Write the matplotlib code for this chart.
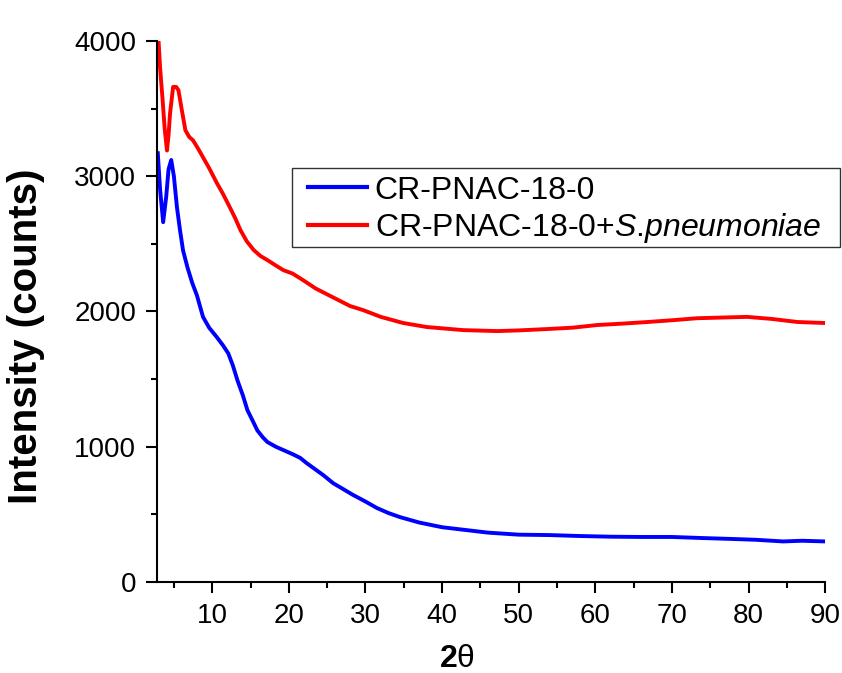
import matplotlib
matplotlib.use("Agg")
import matplotlib.pyplot as plt
from matplotlib.patches import Rectangle
from matplotlib.ticker import MultipleLocator

plt.rcParams["font.family"] = ["Liberation Sans", "DejaVu Sans"]
plt.rcParams["mathtext.fontset"] = "custom"
plt.rcParams["mathtext.it"] = "Liberation Sans:italic"
plt.rcParams["mathtext.rm"] = "Liberation Sans"
plt.rcParams["mathtext.bf"] = "Liberation Sans:bold"

# values (2theta, counts)
blue_x = [2.9, 3.2, 3.6, 4.0, 4.3, 4.65, 5.0, 5.4, 5.8, 6.2, 6.8, 7.4, 8.0, 8.8,
          9.6, 10.6, 11.4, 12.1, 12.7, 13.3, 14.0, 14.6, 15.3, 15.9, 16.6,
          17.2, 18.3, 19.3, 20.5, 21.5, 22.3, 23.2, 24.5, 25.8, 27.0, 28.4,
          30.0, 31.5, 33.0, 34.5, 37.0, 40.0, 43.0, 46.0, 50.0, 54.0, 58.0,
          62.0, 66.0, 70.0, 74.0, 78.0, 81.0, 84.5, 87.0, 90.0]
blue_y = [3170, 2900, 2660, 2850, 3050, 3120, 3000, 2770, 2600, 2450, 2320, 2210,
          2120, 1960, 1880, 1810, 1750, 1690, 1600, 1490, 1380, 1270, 1190,
          1120, 1070, 1035, 1000, 975, 945, 917, 880, 843, 790, 730, 690, 643,
          595, 547, 510, 480, 440, 405, 385, 365, 350, 347, 340, 335, 333, 333,
          325, 318, 312, 300, 305, 300]

red_x = [3.0, 3.2, 3.5, 3.8, 4.1, 4.3, 4.5, 4.9, 5.3, 5.6, 6.0, 6.5, 7.0, 7.5,
         8.2, 8.8, 9.6, 10.6, 11.4, 12.3, 13.0, 13.7, 14.5, 15.4, 16.3, 17.2,
         18.3, 19.3, 20.5, 21.9, 23.5, 25.4, 28.0, 29.7, 32.0, 34.9, 38.0,
         42.8, 47.2, 50.0, 53.7, 57.0, 60.3, 63.5, 66.8, 70.0, 73.3, 76.5,
         79.8, 83.0, 86.4, 89.8]
red_y = [4000, 3800, 3585, 3350, 3190, 3300, 3465, 3660, 3660, 3635, 3500, 3340,
         3290, 3265, 3200, 3140, 3060, 2950, 2870, 2770, 2690, 2600, 2520,
         2455, 2410, 2380, 2340, 2305, 2280, 2230, 2170, 2115, 2040, 2010,
         1960, 1915, 1885, 1862, 1855, 1860, 1870, 1880, 1900, 1910, 1922,
         1935, 1950, 1955, 1960, 1945, 1922, 1915]

fig = plt.figure(figsize=(8.42, 6.73), dpi=100)
ax = fig.add_axes([0.1865, 0.1352, 0.7935, 0.804])

ax.plot(blue_x, blue_y, color="#0000ff", lw=2.8, label="CR-PNAC-18-0")
ax.plot(red_x, red_y, color="#ff0000", lw=2.8,
        label="CR-PNAC-18-0+$\\it{S}$.$\\it{pneumoniae}$")

ax.set_xlim(2.8, 90)
ax.set_ylim(0, 4000)
ax.xaxis.set_major_locator(MultipleLocator(10))
ax.xaxis.set_minor_locator(MultipleLocator(5))
ax.yaxis.set_major_locator(MultipleLocator(1000))
ax.yaxis.set_minor_locator(MultipleLocator(500))
ax.set_xticks(range(10, 91, 10))

for s in ("top", "right"):
    ax.spines[s].set_visible(False)
for s in ("left", "bottom"):
    ax.spines[s].set_linewidth(1.5)
ax.tick_params(which="major", direction="out", length=8, width=1.5,
               labelsize=20, pad=7)
ax.tick_params(which="minor", direction="out", length=4.5, width=1.5)

ax.set_xlabel("$\\mathbf{2}\\mathrm{θ}$", fontsize=23)
ax.xaxis.set_label_coords(0.449, -0.115)
ax.set_ylabel("Intensity (counts)", fontsize=29, fontweight="bold")
ax.yaxis.set_label_coords(-0.168, 0.455)

# legend box drawn as its own frame so its padding matches the original
fig.patches.append(Rectangle((292 / 842, 1 - 247 / 673), 548 / 842, 79 / 673,
                             transform=fig.transFigure, fill=False,
                             edgecolor="#333333", lw=1.0))
leg = ax.legend(loc="upper left", bbox_to_anchor=(0.3658, 0.7392),
                bbox_transform=fig.transFigure, fontsize=23, frameon=False,
                borderaxespad=0, borderpad=0, handlelength=1.84,
                handletextpad=0.25, labelspacing=0.18)
for line in leg.get_lines():
    line.set_linewidth(3)

fig.savefig("out.png", dpi=100)
